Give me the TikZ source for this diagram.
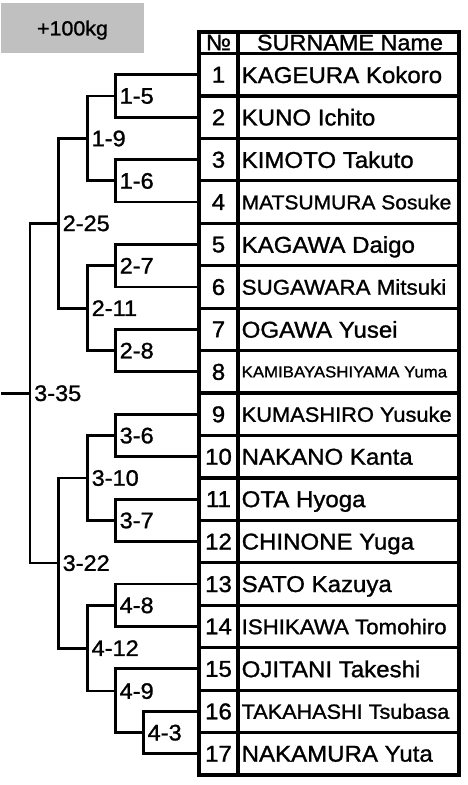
\documentclass[tikz,border=0pt]{standalone}
\usepackage{fontspec}
\setmainfont{Liberation Sans}[FakeStretch=1.05, FakeBold=1.2]
\usetikzlibrary{positioning}
\definecolor{catgray}{HTML}{C0C0C0}

\begin{document}
\begin{tikzpicture}[
    x=1pt, y=-1pt,
    catbox/.style={fill=catgray, minimum width=143pt, minimum height=50pt,
                   inner sep=0pt, text depth=0pt, font=\fontsize{20.4}{24}\selectfont},
    tablebox/.style={draw, line width=4.2pt, minimum width=260pt,
                     minimum height=743pt, inner sep=0pt, outer sep=0pt},
    headtext/.style={inner sep=0pt, text depth=0pt, font=\fontsize{22.3}{26}\selectfont},
    numtext/.style={inner sep=0pt, text depth=0pt, font=\fontsize{22.9}{27}\selectfont},
    nametext/.style={anchor=west, inner sep=0pt, text depth=0pt,
                     font=\fontsize{22.9}{27}\selectfont},
    roundlab/.style={inner sep=0pt, text depth=0pt, font=\fontsize{22.4}{26}\selectfont},
    rowline/.style={line width=3.2pt},
    bracket/.style={line width=2.8pt}
]
    \useasboundingbox (0,0) rectangle (468,785);

    % weight class
    \node[catbox] (cat) at (72.5,28) {+100kg};

    % table frame and rules
    \node[tablebox] (tab) at (329,403.5) {};
    \draw[line width=4.2pt] (238,32) -- (238,775);
    \draw[line width=3pt] (199,53.5) -- (459,53.5);
    \draw[rowline] (199,95.94) -- (459,95.94) (199,138.38) -- (459,138.38)
        (199,180.82) -- (459,180.82) (199,223.26) -- (459,223.26)
        (199,265.70) -- (459,265.70) (199,308.14) -- (459,308.14)
        (199,350.58) -- (459,350.58) (199,393.02) -- (459,393.02)
        (199,435.46) -- (459,435.46) (199,477.90) -- (459,477.90)
        (199,520.34) -- (459,520.34) (199,562.78) -- (459,562.78)
        (199,605.22) -- (459,605.22) (199,647.66) -- (459,647.66)
        (199,690.10) -- (459,690.10) (199,732.54) -- (459,732.54);

    \node[headtext] (hno)   at (218.5,42.5) {№};
    \node[headtext] (hname) at (350,42.5)   {SURNAME Name};

    % entries
    \node[numtext] (k1)  at (218.5,74.72)  {1};
    \node[numtext] (k2)  at (218.5,117.16) {2};
    \node[numtext] (k3)  at (218.5,159.60) {3};
    \node[numtext] (k4)  at (218.5,202.04) {4};
    \node[numtext] (k5)  at (218.5,244.48) {5};
    \node[numtext] (k6)  at (218.5,286.92) {6};
    \node[numtext] (k7)  at (218.5,329.36) {7};
    \node[numtext] (k8)  at (218.5,371.80) {8};
    \node[numtext] (k9)  at (218.5,414.24) {9};
    \node[numtext] (k10) at (218.5,456.68) {10};
    \node[numtext] (k11) at (218.5,499.12) {11};
    \node[numtext] (k12) at (218.5,541.56) {12};
    \node[numtext] (k13) at (218.5,584.00) {13};
    \node[numtext] (k14) at (218.5,626.44) {14};
    \node[numtext] (k15) at (218.5,668.88) {15};
    \node[numtext] (k16) at (218.5,711.32) {16};
    \node[numtext] (k17) at (218.5,753.76) {17};

    \node[nametext] (n1)  at (241.5,74.72)  {KAGEURA Kokoro};
    \node[nametext] (n2)  at (241.5,117.16) {KUNO Ichito};
    \node[nametext] (n3)  at (241.5,159.60) {KIMOTO Takuto};
    \node[nametext, font=\fontsize{20}{24}\selectfont]
                    (n4)  at (241.5,202.04) {MATSUMURA Sosuke};
    \node[nametext] (n5)  at (241.5,244.48) {KAGAWA Daigo};
    \node[nametext, font=\fontsize{21.3}{25}\selectfont]
                    (n6)  at (241.5,286.92) {SUGAWARA Mitsuki};
    \node[nametext] (n7)  at (241.5,329.36) {OGAWA Yusei};
    \node[nametext, font=\fontsize{16}{19}\selectfont]
                    (n8)  at (241.5,371.80) {KAMIBAYASHIYAMA Yuma};
    \node[nametext, font=\fontsize{20.8}{25}\selectfont]
                    (n9)  at (241.5,414.24) {KUMASHIRO Yusuke};
    \node[nametext] (n10) at (241.5,456.68) {NAKANO Kanta};
    \node[nametext] (n11) at (241.5,499.12) {OTA Hyoga};
    \node[nametext] (n12) at (241.5,541.56) {CHINONE Yuga};
    \node[nametext] (n13) at (241.5,584.00) {SATO Kazuya};
    \node[nametext, font=\fontsize{21.2}{25}\selectfont]
                    (n14) at (241.5,626.44) {ISHIKAWA Tomohiro};
    \node[nametext] (n15) at (241.5,668.88) {OJITANI Takeshi};
    \node[nametext, font=\fontsize{20.6}{25}\selectfont]
                    (n16) at (241.5,711.32) {TAKAHASHI Tsubasa};
    \node[nametext] (n17) at (241.5,753.76) {NAKAMURA Yuta};

    % bracket joints
    \coordinate (j15)  at (115.5,95.94);
    \coordinate (j16)  at (115.5,180.82);
    \coordinate (j27)  at (115.5,265.70);
    \coordinate (j28)  at (115.5,350.58);
    \coordinate (j36)  at (115.5,435.46);
    \coordinate (j37)  at (115.5,520.34);
    \coordinate (j48)  at (115.5,605.22);
    \coordinate (j49)  at (115.5,691);
    \coordinate (j43)  at (143.5,732.54);
    \coordinate (j19)  at (87.5,138.38);
    \coordinate (j211) at (87.5,308.14);
    \coordinate (j310) at (87.5,477.90);
    \coordinate (j412) at (87.5,648.1);
    \coordinate (j225) at (58.5,223.26);
    \coordinate (j322) at (58.5,563.0);
    \coordinate (j335) at (30,393.1);
    \coordinate (root) at (1,393.1);

    % first round
    \draw[bracket] (tab.west |- k1)  -| (j15) |- (tab.west |- k2);
    \draw[bracket] (tab.west |- k3)  -| (j16) |- (tab.west |- k4);
    \draw[bracket] (tab.west |- k5)  -| (j27) |- (tab.west |- k6);
    \draw[bracket] (tab.west |- k7)  -| (j28) |- (tab.west |- k8);
    \draw[bracket] (tab.west |- k9)  -| (j36) |- (tab.west |- k10);
    \draw[bracket] (tab.west |- k11) -| (j37) |- (tab.west |- k12);
    \draw[bracket] (tab.west |- k13) -| (j48) |- (tab.west |- k14);
    \draw[bracket] (tab.west |- k16) -| (j43) |- (tab.west |- k17);
    \draw[bracket] (tab.west |- k15) -| (j49) |- (j43);

    % later rounds
    \draw[bracket] (j15)  -| (j19)  |- (j16);
    \draw[bracket] (j27)  -| (j211) |- (j28);
    \draw[bracket] (j36)  -| (j310) |- (j37);
    \draw[bracket] (j48)  -| (j412) |- (j49);
    \draw[bracket] (j19)  -| (j225) |- (j211);
    \draw[bracket] (j310) -| (j322) |- (j412);
    \draw[bracket] (j225) -| (j335) |- (j322);
    \draw[bracket] (j335) -- (root);

    % match numbers
    \node[roundlab, right=4pt of j15]  (m15)  {1-5};
    \node[roundlab, right=4pt of j16]  (m16)  {1-6};
    \node[roundlab, right=4pt of j27]  (m27)  {2-7};
    \node[roundlab, right=4pt of j28]  (m28)  {2-8};
    \node[roundlab, right=4pt of j36]  (m36)  {3-6};
    \node[roundlab, right=4pt of j37]  (m37)  {3-7};
    \node[roundlab, right=4pt of j48]  (m48)  {4-8};
    \node[roundlab, right=4pt of j49]  (m49)  {4-9};
    \node[roundlab, right=4pt of j43]  (m43)  {4-3};
    \node[roundlab, right=4pt of j19]  (m19)  {1-9};
    \node[roundlab, right=4pt of j211] (m211) {2-11};
    \node[roundlab, right=4pt of j310] (m310) {3-10};
    \node[roundlab, right=4pt of j412] (m412) {4-12};
    \node[roundlab, right=4pt of j225] (m225) {2-25};
    \node[roundlab, right=4pt of j322] (m322) {3-22};
    \node[roundlab, right=4pt of j335] (m335) {3-35};
\end{tikzpicture}
\end{document}
